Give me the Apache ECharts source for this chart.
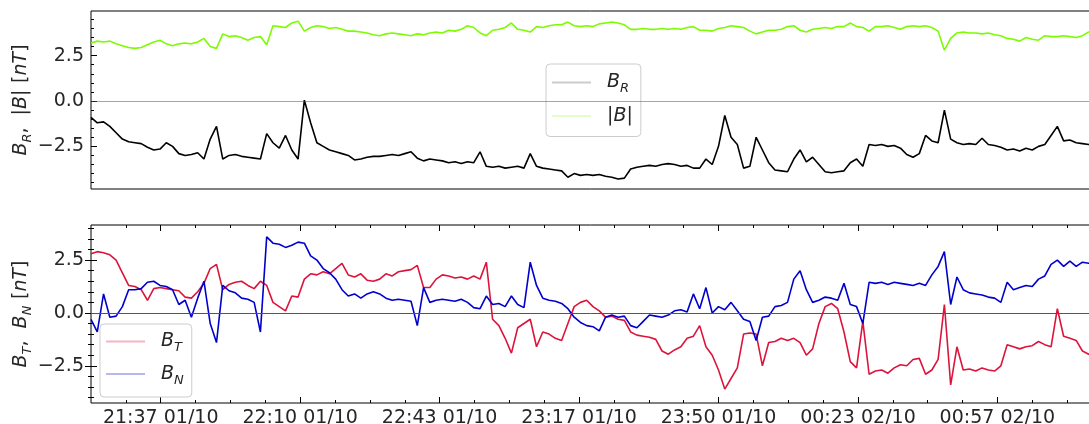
<!DOCTYPE html>
<html>
<head>
<meta charset="utf-8">
<script src="https://cdn.jsdelivr.net/npm/echarts@6/dist/echarts.min.js"></script>
<style>
  html, body { margin: 0; padding: 0; background: #fff; }
  #chart { width: 1089px; height: 424px; }
</style>
</head>
<body>
<div id="chart"></div>
<script>
// Magnetic field components, one sample every 90 s from 21:20:00 on 01/10
const START_SEC = 21 * 3600 + 20 * 60;
const STEP_SEC = 90;
const MONTH = '10';

const BR = [
  -0.9, -1.2, -1.15, -1.4, -1.75, -2.1, -2.25, -2.3, -2.35, -2.55,
  -2.7, -2.65, -2.3, -2.5, -2.9, -3.0, -2.95, -2.85, -3.2, -2.1,
  -1.4, -3.2, -3.0, -2.95, -3.05, -3.1, -3.15, -3.2, -1.8, -2.3,
  -2.6, -1.9, -2.7, -3.2, 0.05, -1.2, -2.3, -2.5, -2.7, -2.8,
  -2.9, -3.0, -3.25, -3.2, -3.1, -3.05, -3.05, -3.0, -2.95, -3.0,
  -2.9, -2.8, -3.15, -3.3, -3.2, -3.25, -3.3, -3.4, -3.35, -3.45,
  -3.35, -3.4, -2.8, -3.6, -3.65, -3.6, -3.7, -3.65, -3.6, -3.7,
  -2.9, -3.6, -3.7, -3.75, -3.8, -3.85, -4.2, -4.0, -4.1, -4.05,
  -4.1, -4.05, -4.15, -4.2, -4.3, -4.25, -3.75, -3.65, -3.6, -3.55,
  -3.6, -3.5, -3.45, -3.5, -3.6, -3.55, -3.7, -3.7, -3.2, -3.5,
  -2.5, -0.8, -2.0, -2.4, -3.7, -3.6, -2.0, -2.7, -3.4, -3.8,
  -3.85, -3.9, -3.2, -2.7, -3.35, -3.1, -3.5, -3.9, -3.95, -3.9,
  -3.85, -3.4, -3.2, -3.6, -2.4, -2.45, -2.4, -2.5, -2.45, -2.6,
  -2.95, -3.1, -2.9, -1.9, -2.2, -2.3, -0.5, -2.1, -2.3, -2.4,
  -2.35, -2.4, -2.05, -2.4, -2.45, -2.55, -2.7, -2.65, -2.75, -2.6,
  -2.7, -2.5, -2.4, -1.9, -1.4, -2.2, -2.15, -2.3, -2.35, -2.4,
  -2.4
];

const BMAG = [
  3.2, 3.3, 3.25, 3.3, 3.15, 3.05, 2.95, 2.9, 2.95, 3.1,
  3.25, 3.35, 3.15, 3.05, 3.15, 3.2, 3.15, 3.25, 3.45, 3.0,
  2.9, 3.7, 3.55, 3.6, 3.5, 3.35, 3.5, 3.55, 3.1, 4.15,
  4.1, 4.05, 4.3, 4.4, 3.85, 4.05, 4.15, 4.1, 4.0, 4.05,
  3.95, 3.85, 3.85, 3.8, 3.75, 3.65, 3.6, 3.7, 3.75, 3.7,
  3.65, 3.6, 3.7, 3.65, 3.75, 3.8, 3.75, 3.9, 3.85, 3.95,
  4.15, 4.05, 3.75, 3.6, 3.9, 3.95, 4.05, 4.3, 3.95, 3.9,
  3.8, 4.1, 4.05, 4.15, 4.2, 4.2, 4.35, 4.15, 4.1, 4.15,
  4.1, 4.25, 4.3, 4.35, 4.3, 4.2, 3.95, 3.95, 4.0, 3.95,
  3.95, 4.0, 3.95, 4.0, 3.95, 4.05, 4.1, 3.9, 3.9, 3.85,
  4.0, 4.05, 4.15, 4.1, 4.05, 3.85, 3.7, 3.8, 3.9, 3.9,
  3.95, 4.1, 4.15, 3.9, 3.8, 3.95, 4.0, 4.05, 4.0, 4.1,
  4.1, 4.3, 4.1, 4.05, 3.85, 4.1, 4.1, 4.15, 4.05, 3.95,
  4.1, 4.15, 4.1, 4.15, 4.05, 3.85, 2.8, 3.45, 3.75, 3.8,
  3.75, 3.75, 3.7, 3.75, 3.65, 3.6, 3.45, 3.4, 3.3, 3.5,
  3.4, 3.35, 3.6, 3.55, 3.55, 3.6, 3.55, 3.5, 3.6, 3.8,
  3.8
];

const BT = [
  2.8, 2.9, 2.85, 2.75, 2.5, 1.9, 1.3, 1.25, 1.1, 0.6,
  1.15, 1.2, 1.15, 1.1, 1.05, 0.75, 0.7, 1.0, 1.4, 2.1,
  2.3, 1.1, 1.35, 1.45, 1.5, 1.3, 1.15, 1.5, 1.3, 0.5,
  0.3, 0.1, 0.8, 0.75, 1.6, 1.85, 1.8, 1.95, 1.85, 2.1,
  2.35, 1.8, 1.7, 1.85, 1.55, 1.5, 1.6, 1.85, 1.75, 1.95,
  2.0, 2.05, 2.25, 1.2, 1.2, 1.6, 1.8, 1.75, 1.65, 1.7,
  1.6, 1.75, 1.6, 2.4, -0.3, -0.6, -1.2, -1.9, -0.7, -0.5,
  -0.3, -1.6, -0.9, -1.0, -1.2, -1.3, -0.5, 0.3, 0.5, 0.6,
  0.3, 0.1, -0.2, -0.15, -0.3, -0.35, -0.9, -1.05, -1.1, -1.15,
  -1.25, -1.8, -1.95, -1.75, -1.6, -1.2, -1.1, -0.6, -1.6, -2.0,
  -2.7, -3.6, -3.1, -2.6, -1.0, -0.95, -1.0, -2.5, -1.4, -1.35,
  -1.2, -1.3, -1.2, -1.4, -2.0, -1.7, -0.5, 0.3, 0.45, 0.2,
  -0.9, -2.3, -2.6, -0.4, -2.9, -2.75, -2.7, -2.85, -2.6, -2.45,
  -2.5, -2.2, -2.15, -2.9, -2.7, -2.2, 0.4, -3.4, -1.6, -2.7,
  -2.65, -2.75, -2.6, -2.7, -2.75, -2.5, -1.5, -1.6, -1.7, -1.6,
  -1.55, -1.35, -1.5, -1.6, 0.2, -1.1, -1.2, -1.3, -1.8, -1.95,
  -1.95
];

const BN = [
  -0.3, -0.9, 0.9, -0.2, -0.15, 0.3, 1.1, 1.1, 1.15, 1.45,
  1.5, 1.3, 1.25, 1.1, 0.4, 0.6, -0.2, 0.7, 1.5, -0.5,
  -1.4, 1.3, 1.05, 0.95, 0.7, 0.65, 0.5, -0.9, 3.6, 3.3,
  3.25, 3.1, 3.2, 3.35, 3.3, 2.7, 2.5, 2.1, 1.9, 1.6,
  1.1, 0.8, 0.9, 0.7, 0.9, 1.0, 0.9, 0.7, 0.6, 0.65,
  0.6, 0.55, -0.6, 1.2, 0.5, 0.6, 0.65, 0.6, 0.55, 0.65,
  0.5, 0.25, 0.2, 0.8, 0.4, 0.45, 0.3, 0.8, 0.4, 0.25,
  2.4, 1.3, 0.7, 0.6, 0.55, 0.45, 0.2, -0.2, -0.45, -0.6,
  -0.65, -0.85, -0.2, -0.1, -0.2, -0.15, -0.6, -0.7, -0.4, -0.1,
  -0.15, -0.2, -0.1, 0.1, 0.15, 0.05, 0.9, 0.2, 1.2, 0.0,
  0.3, 0.15, 0.5, 0.1, -0.3, -0.4, -1.3, -0.2, -0.15, 0.3,
  0.35, 0.5, 1.6, 2.0, 1.1, 0.5, 0.6, 0.75, 0.7, 0.6,
  1.4, 0.4, 0.3, -0.5, 1.45, 1.4, 1.45, 1.35, 1.45, 1.4,
  1.35, 1.3, 1.4, 1.3, 1.8, 2.2, 2.9, 0.4, 1.7, 1.1,
  0.95, 0.9, 0.85, 0.75, 0.7, 0.5, 1.45, 1.1, 1.2, 1.3,
  1.25, 1.6, 1.75, 2.3, 2.5, 2.2, 2.45, 2.2, 2.4, 2.35,
  2.4
];

// Axis extents and ticks (time in seconds after 21:20:00)
const T_MAX = 14400;
const TIME_LABEL_TICKS = [1000, 3000, 5000, 7000, 9000, 11000, 13000];
const TIME_MINOR_TICKS = [500, 1500, 2000, 2500, 3500, 4000, 4500, 5500, 6000, 6500,
  7500, 8000, 8500, 9500, 10000, 10500, 11500, 12000, 12500, 13500, 14000];
const TOP_RANGE = [-4.85, 4.96];
const BOTTOM_RANGE = [-4.26, 4.16];
const Y_MAJOR = [-2.5, 0, 2.5];
const TOP_Y_MINOR = [-4.5, -4, -3.5, -3, -2, -1.5, -1, -0.5, 0.5, 1, 1.5, 2, 3, 3.5, 4, 4.5];
const BOTTOM_Y_MINOR = [-4, -3.5, -3, -2, -1.5, -1, -0.5, 0.5, 1, 1.5, 2, 3, 3.5, 4];

const FONT = 'DejaVu Sans';
const INK = '#262626';
const TRACE_WIDTH = 1.6;

function pairs(values) {
  return values.map((v, i) => [i * STEP_SEC, v]);
}
function pad2(n) { return (n < 10 ? '0' : '') + n; }
function timeLabel(t) {
  const m = Math.round((START_SEC + t) / 60);
  const day = 1 + Math.floor(m / 1440);
  return pad2(Math.floor(m / 60) % 24) + ':' + pad2(m % 60) + ' ' + pad2(day) + '/' + MONTH;
}
function yLabel(v) {
  return (v < 0 ? '\u2212' : '') + Math.abs(v).toFixed(1);
}

const mathRich = {
  i: { fontFamily: FONT, fontSize: 19, fontStyle: 'italic', color: INK, lineHeight: 26 },
  n: { fontFamily: FONT, fontSize: 19, color: INK, lineHeight: 26 },
  s: { fontFamily: FONT, fontSize: 13, fontStyle: 'italic', color: INK, lineHeight: 13, verticalAlign: 'bottom' },
  g: { width: 11, lineHeight: 26 }
};

function yAxesFor(grid, range, minor, name) {
  const base = {
    gridIndex: grid, type: 'value', min: range[0], max: range[1],
    axisLine: { show: false }, splitLine: { show: false }
  };
  return [
    Object.assign({}, base, {
      position: 'left',
      axisTick: { inside: true, length: 6, customValues: Y_MAJOR, lineStyle: { color: '#000', width: 1 } },
      axisLabel: { customValues: Y_MAJOR, formatter: yLabel, margin: 7, fontFamily: FONT, fontSize: 19, color: INK },
      name: name, nameLocation: 'middle', nameGap: 57, nameRotate: 90,
      nameMoveOverlap: false,
      nameTextStyle: { rich: mathRich }
    }),
    Object.assign({}, base, {
      position: 'left',
      axisTick: { inside: true, length: 3, customValues: minor, lineStyle: { color: '#000', width: 1 } },
      axisLabel: { show: false }
    }),
    Object.assign({}, base, {
      position: 'right',
      axisTick: { inside: true, length: 6, customValues: Y_MAJOR, lineStyle: { color: '#000', width: 1 } },
      axisLabel: { show: false }
    }),
    Object.assign({}, base, {
      position: 'right',
      axisTick: { inside: true, length: 3, customValues: minor, lineStyle: { color: '#000', width: 1 } },
      axisLabel: { show: false }
    })
  ];
}

function timeAxis(grid, position, ticks, len, labels) {
  return {
    gridIndex: grid, type: 'value', position: position, min: 0, max: T_MAX,
    axisLine: { show: false, onZero: false }, splitLine: { show: false },
    axisTick: { show: true, inside: true, length: len, customValues: ticks, lineStyle: { color: '#000', width: 1 } },
    axisLabel: labels
      ? { customValues: ticks, formatter: timeLabel, margin: 6, fontFamily: FONT, fontSize: 19, color: INK }
      : { show: false }
  };
}

const legendNames = {
  'B_R': '{g| }{i|B}{s|R}',
  '|B|': '{g| }{n||}{i|B}{n||}',
  'B_T': '{g| }{i|B}{s|T}',
  'B_N': '{g| }{i|B}{s|N}'
};

function legendBox(items, left, top, padding, gap) {
  return {
    orient: 'vertical', left: left, top: top,
    padding: padding, itemGap: gap,
    itemWidth: 39, itemHeight: 2, icon: 'rect',
    backgroundColor: 'rgba(255,255,255,0.85)',
    borderColor: '#cccccc', borderWidth: 1, borderRadius: 4,
    selectedMode: false,
    data: items,
    formatter: (name) => legendNames[name],
    textStyle: { rich: mathRich }
  };
}

const chart = echarts.init(document.getElementById('chart'), null, { renderer: 'canvas' });

const gridBase = {
  left: 91, right: -6, height: 178, show: true,
  borderColor: '#000', borderWidth: 1, backgroundColor: 'transparent',
  containLabel: false, outerBoundsMode: 'none'
};

chart.setOption({
  animation: false,
  backgroundColor: '#ffffff',
  grid: [
    Object.assign({}, gridBase, { top: 11 }),
    Object.assign({}, gridBase, { top: 225 })
  ],
  xAxis: [
    { gridIndex: 0, type: 'value', min: 0, max: T_MAX, show: false, axisLine: { onZero: false } },
    timeAxis(1, 'bottom', TIME_LABEL_TICKS, 6, true),
    timeAxis(1, 'bottom', TIME_MINOR_TICKS, 3, false),
    timeAxis(1, 'top', TIME_LABEL_TICKS, 6, false),
    timeAxis(1, 'top', TIME_MINOR_TICKS, 3, false)
  ],
  yAxis: [].concat(
    yAxesFor(0, TOP_RANGE, TOP_Y_MINOR, '{i|B}{s|R}{n|,  }{n||}{i|B}{n||}  {n|[}{i|nT}{n|]}'),
    yAxesFor(1, BOTTOM_RANGE, BOTTOM_Y_MINOR, '{i|B}{s|T}{n|,  }{i|B}{s|N}  {n|[}{i|nT}{n|]}')
  ),
  legend: [
    legendBox([
      { name: 'B_R', itemStyle: { color: '#cccccc' } },
      { name: '|B|', itemStyle: { color: '#e4fccc' } }
    ], 546, 64, [9, 8, 11, 6], 11),
    legendBox([
      { name: 'B_T', itemStyle: { color: '#f6b4c1' } },
      { name: 'B_N', itemStyle: { color: '#b8b8f0' } }
    ], 100, 324, [8, 8, 10, 6], 10)
  ],
  series: [
    {
      name: 'B_R', type: 'line', xAxisIndex: 0, yAxisIndex: 0,
      data: pairs(BR), showSymbol: false, symbol: 'none',
      lineStyle: { color: '#000000', width: TRACE_WIDTH }, itemStyle: { color: '#000000' }
    },
    {
      name: '|B|', type: 'line', xAxisIndex: 0, yAxisIndex: 0,
      data: pairs(BMAG), showSymbol: false, symbol: 'none',
      lineStyle: { color: '#7cfc00', width: TRACE_WIDTH }, itemStyle: { color: '#7cfc00' },
      markLine: {
        silent: true, symbol: ['none', 'none'], label: { show: false },
        lineStyle: { color: 'rgba(255,0,0,0.5)', width: 1, type: 'solid' },
        data: [{ yAxis: 0 }]
      }
    },
    {
      name: 'B_T', type: 'line', xAxisIndex: 1, yAxisIndex: 4,
      data: pairs(BT), showSymbol: false, symbol: 'none',
      lineStyle: { color: '#dc143c', width: TRACE_WIDTH }, itemStyle: { color: '#dc143c' }
    },
    {
      name: 'B_N', type: 'line', xAxisIndex: 1, yAxisIndex: 4,
      data: pairs(BN), showSymbol: false, symbol: 'none',
      lineStyle: { color: '#0000cd', width: TRACE_WIDTH }, itemStyle: { color: '#0000cd' },
      markLine: {
        silent: true, symbol: ['none', 'none'], label: { show: false },
        lineStyle: { color: '#555555', width: 1, type: 'solid' },
        data: [{ yAxis: 0 }]
      }
    }
  ]
});
</script>
</body>
</html>
